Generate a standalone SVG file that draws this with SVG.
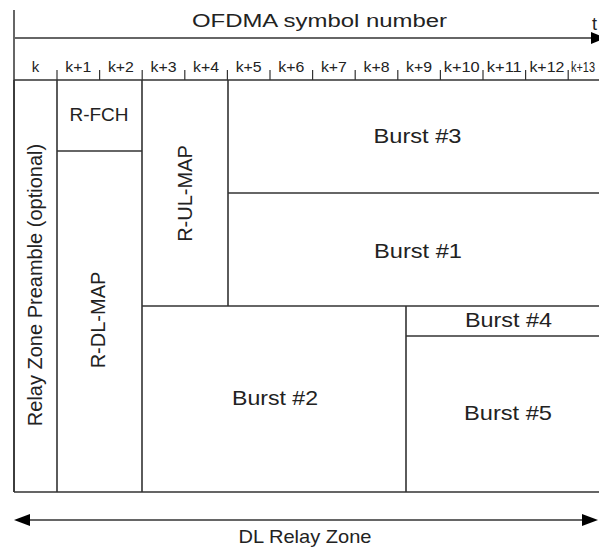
<svg xmlns="http://www.w3.org/2000/svg" width="599" height="547" viewBox="0 0 599 547">
<style>
text{font-family:"Liberation Sans",Arial,sans-serif;fill:#222}
.ln{stroke:#333;stroke-width:1.6;fill:none}
.ax{stroke:#666;stroke-width:2;fill:none}
.tk{stroke:#333;stroke-width:1.2}
.k{font-size:15px;text-anchor:middle}
.b{font-size:21px;text-anchor:middle}
.v{font-size:20px;text-anchor:middle}
</style>
<g id="axis">
<line class="ax" x1="14" y1="10" x2="14" y2="492"/>
<line class="ax" x1="14" y1="38" x2="593" y2="38"/>
<path d="M591,32 L606,38 L591,44 Z" fill="#000"/>
<text x="319.5" y="27" style="font-size:18px;text-anchor:middle" textLength="255" lengthAdjust="spacingAndGlyphs">OFDMA symbol number</text>
<text x="592" y="30" style="font-size:18px">t</text>
</g>
<g id="ticks">
<line class="tk" x1="57" y1="70" x2="57" y2="80"/>
<line class="tk" x1="99.6" y1="70" x2="99.6" y2="80"/>
<line class="tk" x1="142.2" y1="70" x2="142.2" y2="80"/>
<line class="tk" x1="184.8" y1="70" x2="184.8" y2="80"/>
<line class="tk" x1="227.4" y1="70" x2="227.4" y2="80"/>
<line class="tk" x1="270" y1="70" x2="270" y2="80"/>
<line class="tk" x1="312.6" y1="70" x2="312.6" y2="80"/>
<line class="tk" x1="355.2" y1="70" x2="355.2" y2="80"/>
<line class="tk" x1="397.8" y1="70" x2="397.8" y2="80"/>
<line class="tk" x1="440.4" y1="70" x2="440.4" y2="80"/>
<line class="tk" x1="483" y1="70" x2="483" y2="80"/>
<line class="tk" x1="525.6" y1="70" x2="525.6" y2="80"/>
<line class="tk" x1="568.2" y1="70" x2="568.2" y2="80"/>
<text class="k" x="35.5" y="72">k</text>
<text class="k" x="78.3" y="72" textLength="26" lengthAdjust="spacingAndGlyphs">k+1</text>
<text class="k" x="120.9" y="72" textLength="26" lengthAdjust="spacingAndGlyphs">k+2</text>
<text class="k" x="163.5" y="72" textLength="26" lengthAdjust="spacingAndGlyphs">k+3</text>
<text class="k" x="206.1" y="72" textLength="26" lengthAdjust="spacingAndGlyphs">k+4</text>
<text class="k" x="248.7" y="72" textLength="26" lengthAdjust="spacingAndGlyphs">k+5</text>
<text class="k" x="291.3" y="72" textLength="26" lengthAdjust="spacingAndGlyphs">k+6</text>
<text class="k" x="333.9" y="72" textLength="26" lengthAdjust="spacingAndGlyphs">k+7</text>
<text class="k" x="376.5" y="72" textLength="26" lengthAdjust="spacingAndGlyphs">k+8</text>
<text class="k" x="419.1" y="72" textLength="26" lengthAdjust="spacingAndGlyphs">k+9</text>
<text class="k" x="461.7" y="72" textLength="36" lengthAdjust="spacingAndGlyphs">k+10</text>
<text class="k" x="504.3" y="72" textLength="35" lengthAdjust="spacingAndGlyphs">k+11</text>
<text class="k" x="546.9" y="72" textLength="35" lengthAdjust="spacingAndGlyphs">k+12</text>
<text x="571" y="72" style="font-size:14px" textLength="24" lengthAdjust="spacingAndGlyphs">k+13</text>
</g>
<g id="frame">
<path class="ln" d="M14,80 H600 M14,492 H600 M14,80 V492"/>
</g>
<g id="preamble">
<line class="ln" x1="57" y1="80" x2="57" y2="492"/>
<text class="v" transform="translate(42,285) rotate(-90)" x="0" y="0">Relay Zone Preamble (optional)</text>
</g>
<g id="r-fch">
<line class="ln" x1="57" y1="151" x2="142" y2="151"/>
<text x="99" y="121" style="font-size:19px;text-anchor:middle">R-FCH</text>
</g>
<g id="r-dl-map">
<line class="ln" x1="142" y1="80" x2="142" y2="492"/>
<text class="v" transform="translate(105,320) rotate(-90)" x="0" y="0">R-DL-MAP</text>
</g>
<g id="r-ul-map">
<line class="ln" x1="228" y1="80" x2="228" y2="306"/>
<text class="v" transform="translate(192,193.5) rotate(-90)" x="0" y="0">R-UL-MAP</text>
</g>
<g id="burst3">
<line class="ln" x1="228" y1="193" x2="600" y2="193"/>
<text class="b" x="417.5" y="143" textLength="88" lengthAdjust="spacingAndGlyphs">Burst #3</text>
</g>
<g id="burst1">
<line class="ln" x1="142" y1="306" x2="600" y2="306"/>
<text class="b" x="418" y="258" textLength="88" lengthAdjust="spacingAndGlyphs">Burst #1</text>
</g>
<g id="burst2">
<line class="ln" x1="406" y1="306" x2="406" y2="492"/>
<text class="b" x="275" y="405" textLength="86" lengthAdjust="spacingAndGlyphs">Burst #2</text>
</g>
<g id="burst4">
<line class="ln" x1="406" y1="336" x2="600" y2="336"/>
<text class="b" x="508.5" y="327" textLength="87" lengthAdjust="spacingAndGlyphs">Burst #4</text>
</g>
<g id="burst5">
<text class="b" x="508" y="420" textLength="88" lengthAdjust="spacingAndGlyphs">Burst #5</text>
</g>
<g id="connectors">
<line class="ax" x1="28" y1="520" x2="584" y2="520"/>
<path d="M14,520 L30,514 L30,526 Z" fill="#000"/>
<path d="M598,520 L582,514 L582,526 Z" fill="#000"/>
<text x="305" y="543" style="font-size:19px;text-anchor:middle" textLength="133" lengthAdjust="spacingAndGlyphs">DL Relay Zone</text>
</g>
</svg>
